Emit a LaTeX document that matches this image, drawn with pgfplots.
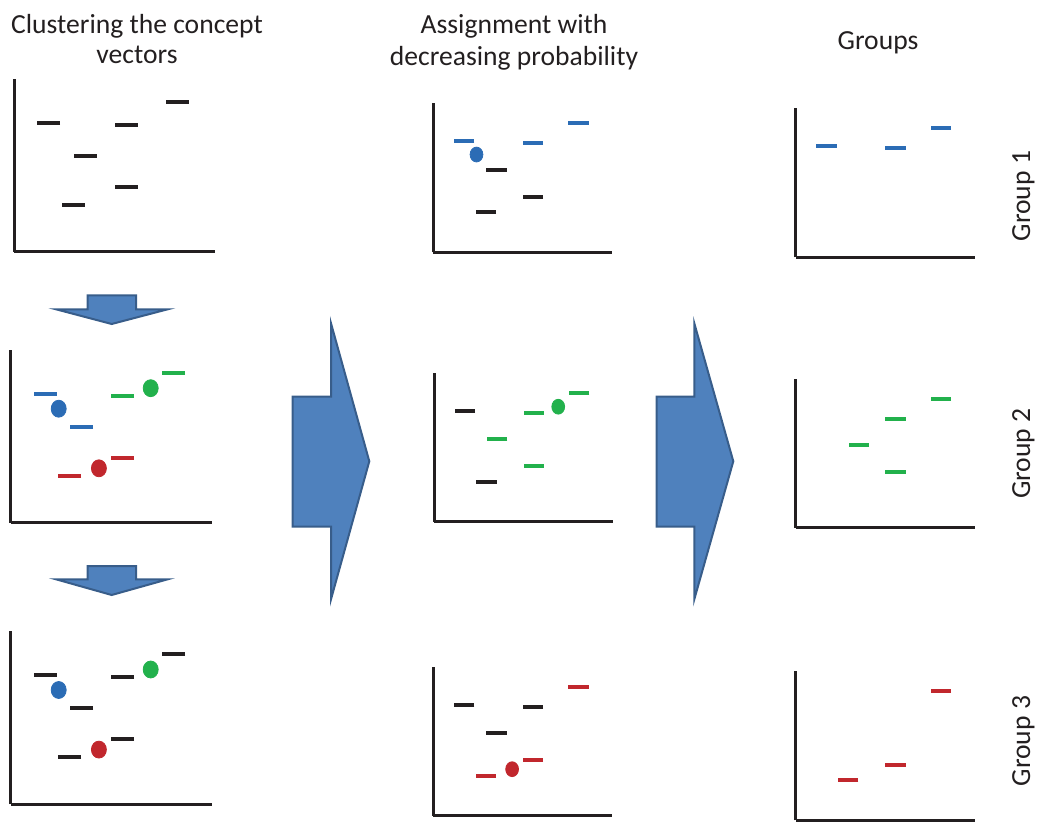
\documentclass[border=0pt]{standalone}
\usepackage{fontspec}
\setmainfont{Carlito}
\usepackage{pgfplots}
\pgfplotsset{compat=1.18}

\definecolor{ink}{HTML}{231F20}
\definecolor{cblue}{HTML}{2B6CB5}
\definecolor{cgreen}{HTML}{22B14C}
\definecolor{cred}{HTML}{C1272D}
\definecolor{arrowfill}{HTML}{4F81BD}
\definecolor{arrowline}{HTML}{385D8A}

% the six concept vectors, in the units of the left column (pixels)
\pgfplotsset{
  panel/.style={scale only axis, axis lines=left,
    axis line style={-, line width=1.5pt, ink},
    ticks=none, xmin=0, xmax=201, ymin=0, ymax=173,
    clip=false, anchor=south west},
  colA/.style={panel, width=100.5pt, height=86.5pt},
  colB/.style={panel, width=89.5pt, height=74.5pt},
  dashA/.style={only marks, mark=-, color=#1, mark size=5.75pt, mark options={line width=2pt}},
  dotA/.style={only marks, mark=*, color=#1, mark size=3.75pt, mark options={yscale=1.13}},
  dashB/.style={only marks, mark=-, color=#1, mark size=5.1pt, mark options={line width=2pt}},
  dotB/.style={only marks, mark=*, color=#1, mark size=3.2pt, mark options={yscale=1.16}},
}

\begin{document}
\begin{tikzpicture}
\begin{scope}[x=0.5pt, y=-0.5pt]
  \useasboundingbox (0,0) rectangle (1037,821);
  \coordinate (A1) at (14,252);
  \coordinate (A2) at (10.7,522.7);
  \coordinate (A3) at (10.7,804);
  \coordinate (B1) at (433.3,252.3);
  \coordinate (B2) at (434,521.7);
  \coordinate (B3) at (433.3,815.7);
  \coordinate (C1) at (795.7,257.3);
  \coordinate (C2) at (795.7,527.7);
  \coordinate (C3) at (795.7,820.3);

  \tikzset{ttl/.style={font=\fontsize{13.8}{15.5}\selectfont, text=ink, inner sep=0pt, anchor=base}}
  \node[ttl] at (137,33.3) {Clustering the concept};
  \node[ttl] at (137,63.3) {vectors};
  \node[ttl] at (514,33.3) {Assignment with};
  \node[ttl] at (514,65.3) {decreasing probability};
  \node[ttl] at (878,49.3) {Groups};
  \node[ttl, rotate=90] at (1030,196) {Group 1};
  \node[ttl, rotate=90] at (1030,453.5) {Group 2};
  \node[ttl, rotate=90] at (1030,741) {Group 3};

  \tikzset{arr/.style={fill=arrowfill, draw=arrowline, line width=1pt, line join=miter}}
  \draw[arr] (87.7,295.3) -- (136,295.3) -- (136,309.3) -- (167.7,309.3) -- (111.7,324)
    -- (56,309.3) -- (87.7,309.3) -- cycle;
  \draw[arr] (87.7,566) -- (136,566) -- (136,579.3) -- (167.7,579.3) -- (111.7,595)
    -- (56,579.3) -- (87.7,579.3) -- cycle;
  \draw[arr] (292.7,396.7) -- (331,396.7) -- (331,323.3) -- (369.3,461.3) -- (331,599.3)
    -- (331,526.7) -- (292.7,526.7) -- cycle;
  \draw[arr] (656.7,396.7) -- (694.3,396.7) -- (694.3,323.3) -- (733.3,461.3) -- (694.3,599.3)
    -- (694.3,526.7) -- (656.7,526.7) -- cycle;
\end{scope}

% left column: clustering
\begin{axis}[colA, at={(A1)}]
  \addplot[dashA=ink] coordinates {(34.7,129) (71,96) (59,46.6) (112,126.7) (112,64.7) (163,149.8)};
\end{axis}
\begin{axis}[colA, at={(A2)}]
  \addplot[dashA=cblue] coordinates {(34.7,129) (71,96)};
  \addplot[dashA=cgreen] coordinates {(112,126.7) (163,149.8)};
  \addplot[dashA=cred] coordinates {(59,46.6) (112,64.7)};
  \addplot[dotA=cblue] coordinates {(48,114)};
  \addplot[dotA=cgreen] coordinates {(140,134.5)};
  \addplot[dotA=cred] coordinates {(88.2,54.4)};
\end{axis}
\begin{axis}[colA, at={(A3)}]
  \addplot[dashA=ink] coordinates {(34.7,129) (71,96) (59,46.6) (112,126.7) (112,64.7) (163,149.8)};
  \addplot[dotA=cblue] coordinates {(48,114)};
  \addplot[dotA=cgreen] coordinates {(140,134.5)};
  \addplot[dotA=cred] coordinates {(88.2,54.4)};
\end{axis}

% middle column: assignment
\begin{axis}[colB, at={(B1)}]
  \addplot[dashB=cblue] coordinates {(34.7,129) (112,126.7) (163,149.8)};
  \addplot[dashB=ink] coordinates {(71,96) (59,46.6) (112,64.7)};
  \addplot[dotB=cblue] coordinates {(48.5,113.5)};
\end{axis}
\begin{axis}[colB, at={(B2)}]
  \addplot[dashB=ink] coordinates {(34.7,129) (59,46.6)};
  \addplot[dashB=cgreen] coordinates {(71,96) (112,126.7) (112,64.7) (163,149.8)};
  \addplot[dotB=cgreen] coordinates {(139.5,133.5)};
\end{axis}
\begin{axis}[colB, at={(B3)}]
  \addplot[dashB=ink] coordinates {(34.7,129) (71,96) (112,126.7)};
  \addplot[dashB=cred] coordinates {(59,46.6) (112,64.7) (163,149.8)};
  \addplot[dotB=cred] coordinates {(88.5,54)};
\end{axis}

% right column: groups
\begin{axis}[colB, at={(C1)}]
  \addplot[dashB=cblue] coordinates {(34.7,129) (112,126.7) (163,149.8)};
\end{axis}
\begin{axis}[colB, at={(C2)}]
  \addplot[dashB=cgreen] coordinates {(71,96) (112,126.7) (112,64.7) (163,149.8)};
\end{axis}
\begin{axis}[colB, at={(C3)}]
  \addplot[dashB=cred] coordinates {(59,46.6) (112,64.7) (163,149.8)};
\end{axis}
\end{tikzpicture}
\end{document}
